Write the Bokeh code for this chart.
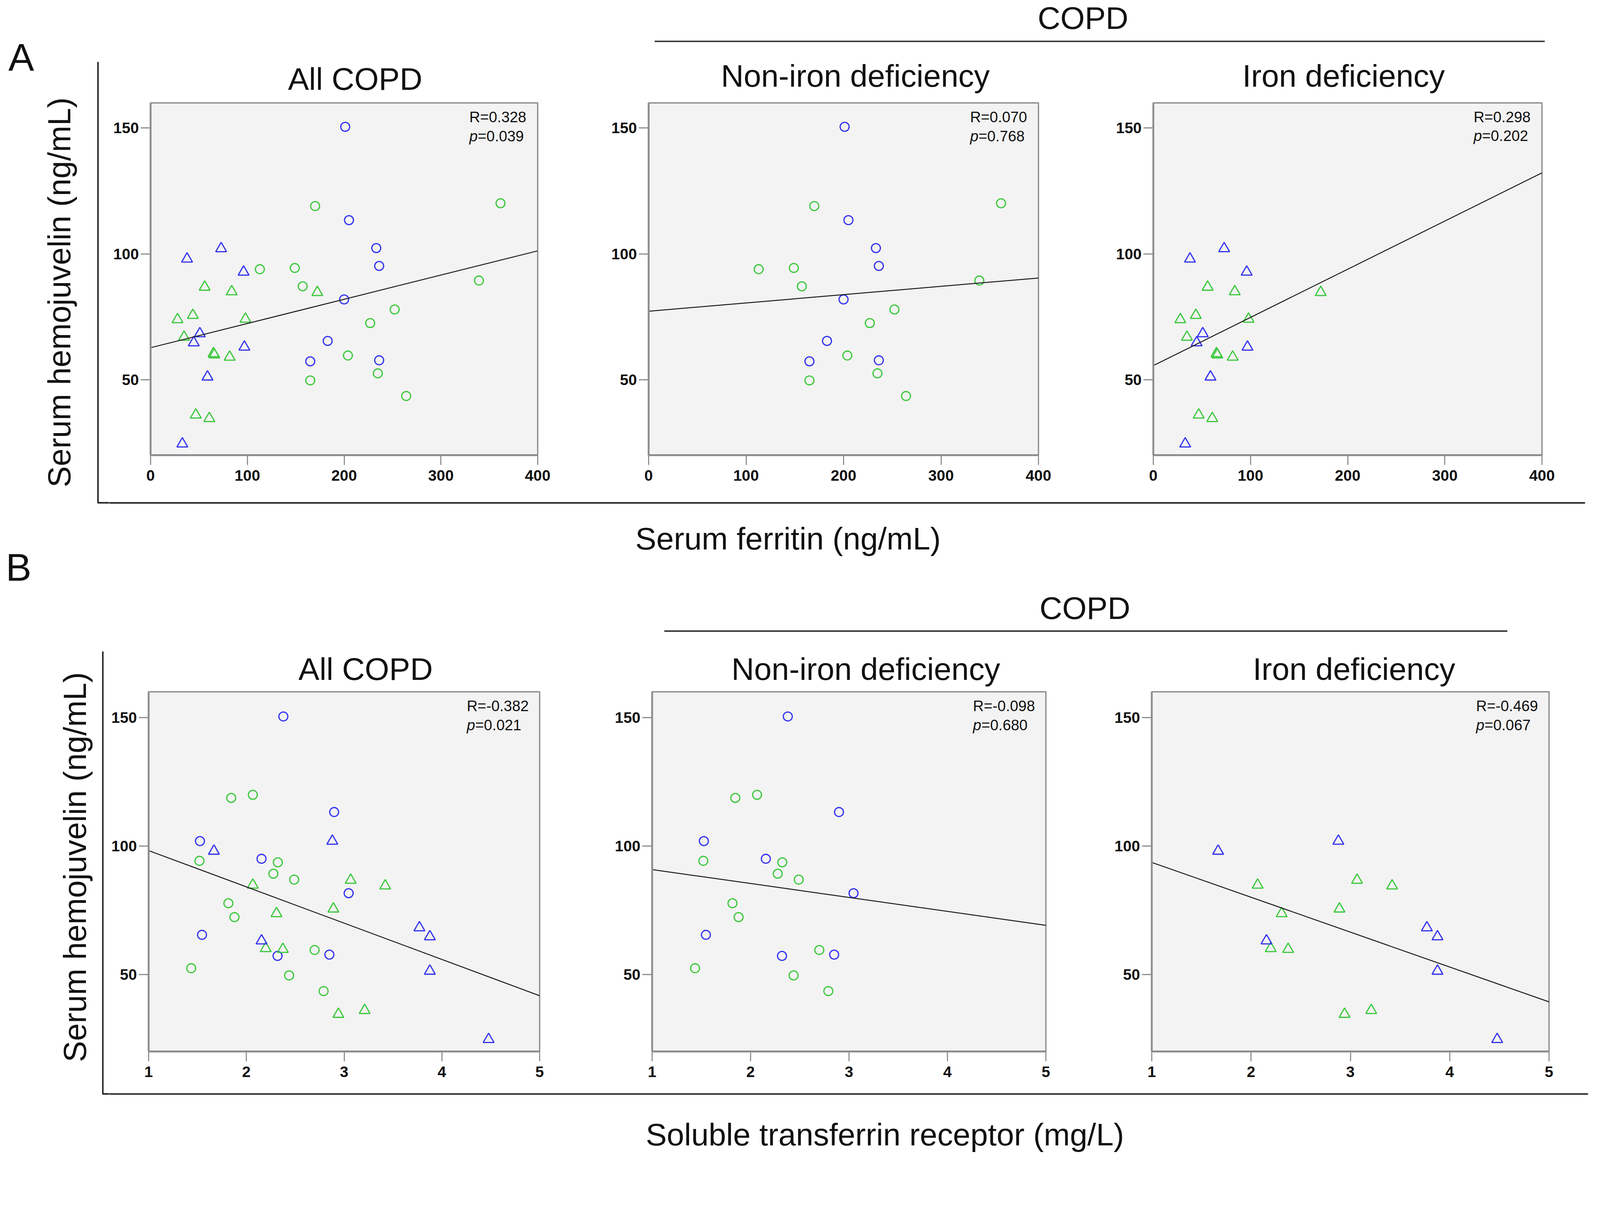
import numpy as np
from bokeh.plotting import figure
from bokeh.layouts import row, column
from bokeh.models import Range1d, FixedTicker
from bokeh.core.properties import value
from bokeh.embed import file_html
from bokeh.resources import INLINE

FONT = "Liberation Sans"

# ---------------- data ----------------
# Panel A: serum ferritin (ng/mL) vs serum hemojuvelin (ng/mL)
# circles = non-iron deficiency, triangles = iron deficiency
circ_blue_ferritin = [201.1, 205.0, 233.2, 236.2, 200.0, 183.0, 165.0, 236.2]
circ_blue_hjv_A = [150.5, 113.4, 102.3, 95.2, 81.9, 65.4, 57.3, 57.7]
circ_green_ferritin = [170.0, 361.6, 112.9, 149.0, 157.2, 339.3, 252.2, 226.9, 203.9, 165.0, 234.8, 264.1]
circ_green_hjv_A = [119.0, 120.1, 93.9, 94.4, 87.1, 89.4, 77.9, 72.5, 59.6, 49.7, 52.5, 43.5]
tri_blue_ferritin = [72.9, 37.7, 96.1, 50.9, 44.6, 96.9, 58.8, 32.8]
tri_blue_hjv_A = [102.1, 98.0, 92.8, 68.3, 64.7, 63.0, 51.1, 24.5]
tri_green_ferritin = [55.9, 83.8, 172.3, 27.8, 43.7, 98.0, 34.6, 65.0, 65.9, 81.7, 46.7, 60.7]
tri_green_hjv_A = [86.8, 85.0, 84.7, 73.9, 75.6, 74.1, 66.9, 60.4, 59.9, 59.0, 36.0, 34.6]

# Panel B: soluble transferrin receptor (mg/L) vs serum hemojuvelin (ng/mL)
circ_blue_stfr = [2.378, 2.898, 1.525, 2.155, 3.046, 1.546, 2.319, 2.849]
circ_blue_hjv_B = [150.4, 113.2, 101.9, 95.0, 81.6, 65.4, 57.2, 57.7]
circ_green_stfr = [1.845, 2.066, 1.520, 2.322, 2.276, 2.489, 1.816, 1.878, 2.698, 1.436, 2.437, 2.790]
circ_green_hjv_B = [118.7, 119.9, 94.2, 93.6, 89.2, 86.9, 77.7, 72.3, 59.5, 52.4, 49.6, 43.5]
tri_blue_stfr = [1.668, 2.879, 3.770, 3.877, 2.155, 3.877, 4.478]
tri_blue_hjv_B = [98.0, 101.9, 68.2, 64.7, 63.1, 51.3, 24.7]
tri_green_stfr = [2.066, 3.067, 3.420, 2.890, 2.308, 2.198, 2.373, 2.941, 3.210]
tri_green_hjv_B = [84.8, 86.7, 84.5, 75.5, 73.7, 60.1, 59.8, 34.5, 36.0]

panel_titles = ["All COPD", "Non-iron deficiency", "Iron deficiency"]
group_title = "COPD"

# fitted regression lines: y value at left and right end of the x axis
fitA_y_left = [62.7, 77.2, 55.6]
fitA_y_right = [101.2, 90.4, 132.2]
fitB_y_left = [98.2, 90.8, 93.6]
fitB_y_right = [41.7, 69.1, 39.3]

statsA_R = ["0.328", "0.070", "0.298"]
statsA_p = ["0.039", "0.768", "0.202"]
statsB_R = ["-0.382", "-0.098", "-0.469"]
statsB_p = ["0.021", "0.680", "0.067"]

xA_range = (0, 400)
xA_ticks = [0, 100, 200, 300, 400]
xB_range = (1, 5)
xB_ticks = [1, 2, 3, 4, 5]
y_range = (20, 160)
y_ticks = [50, 100, 150]

y_title = "Serum hemojuvelin (ng/mL)"
xA_title = "Serum ferritin (ng/mL)"
xB_title = "Soluble transferrin receptor (mg/L)"

# ---------------- styles ----------------
BLUE = "#3434ee"
GREEN = "#3dc83d"
FRAME = "#8e8e8e"
BG = "#f3f3f3"
INK = "#111111"
LINE = "#222222"

S = 1 / 1.045          # page pixels -> photographed pixels compensation
MID = 0.35             # em offset from text middle to baseline


def P(v):
    return int(round((v - 8) * S))


def fs(size):
    return value(f"{size * S:.1f}px")


def txt(p, x, y, s, size, align="left", angle=0.0, style="normal", rotated=False):
    # (x, y) is the baseline anchor in the strip's reference coordinates
    if rotated:
        x = x - MID * size
    else:
        y = y - MID * size
    p.text(x=[x], y=[y], text=[s], text_font=value(FONT), text_font_size=fs(size),
           text_align=align, text_baseline="middle", angle=angle,
           text_color=INK, text_font_style=style)


def strip(x0, x1, y0, y1):
    p = figure(width=P(x1) - P(x0), height=P(y1) - P(y0),
               x_range=Range1d(x0, x1), y_range=Range1d(y1, y0),
               x_axis_location=None, y_axis_location=None,
               toolbar_location=None, tools="", output_backend="svg",
               min_border=0, outline_line_color=None,
               background_fill_color="white", border_fill_color="white")
    p.grid.grid_line_color = None
    return p


def panel(xr, xticks, cx0, cx1, ry0, ry1, fx0, fx1, fy0, fy1):
    p = figure(width=P(cx1) - P(cx0), height=P(ry1) - P(ry0),
               x_range=Range1d(*xr), y_range=Range1d(*y_range),
               toolbar_location=None, tools="", output_backend="svg",
               min_border_left=P(fx0) - P(cx0), min_border_right=P(cx1) - P(fx1),
               min_border_top=P(fy0) - P(ry0), min_border_bottom=P(ry1) - P(fy1),
               background_fill_color=BG, border_fill_color="white",
               outline_line_color=FRAME, outline_line_width=3.5 * S)
    p.grid.grid_line_color = None
    p.xaxis.ticker = FixedTicker(ticks=xticks)
    p.yaxis.ticker = FixedTicker(ticks=y_ticks)
    for ax in (p.xaxis[0], p.yaxis[0]):
        ax.axis_line_color = FRAME
        ax.axis_line_width = 5 * S
        ax.major_tick_line_color = FRAME
        ax.major_tick_line_width = 3 * S
        ax.major_tick_out = int(round(26 * S))
        ax.major_tick_in = 0
        ax.minor_tick_out = 0
        ax.minor_tick_in = 0
        ax.major_label_text_font = FONT
        ax.major_label_text_font_size = f"{41 * S:.1f}px"
        ax.major_label_text_font_style = "bold"
        ax.major_label_text_color = INK
    p.xaxis.major_label_standoff = int(round(14 * S))
    p.yaxis.major_label_standoff = int(round(5 * S))
    p._fw = fx1 - fx0
    p._fh = fy1 - fy0
    return p


def points(p, xs, ys, marker, color):
    size = (24 if marker == "circle" else 29) * S
    p.scatter(x=xs, y=ys, marker=marker, size=size, fill_color=None,
              line_color=color, line_width=3.2 * S)


def fit_and_stats(p, xr, yl, yr, R, pv, left_px):
    p.line(x=[xr[0], xr[1]], y=[yl, yr], line_color="#1c1c1c", line_width=2.6 * S)
    xpp = (xr[1] - xr[0]) / p._fw
    ypp = (y_range[1] - y_range[0]) / p._fh
    x0 = xr[1] - left_px * xpp
    yR = y_range[1] - (52 - MID * 40) * ypp
    yP = y_range[1] - (103 - MID * 40) * ypp
    for x, y, s, st in [(x0, yR, "R=" + R, "normal"), (x0, yP, "p", "italic"),
                        (x0 + 22.5 * xpp, yP, "=" + pv, "normal")]:
        p.text(x=[x], y=[y], text=[s], text_font=value(FONT), text_font_size=fs(40),
               text_align="left", text_baseline="middle", text_color=INK,
               text_font_style=st)


# column / row boundaries (reference pixel coordinates)
COLS = [8, 300, 1560, 2920, 4278]
ROWS = [8, 265, 1335, 1848, 2910, 3091]

# ---------------- row A panels ----------------
A_frames = [(410, 1446, 283, 1233), (1743, 2786, 278, 1225), (3093, 4133, 274, 1225)]
A_panels = []
for i, (fx0, fx1, fy0, fy1) in enumerate(A_frames):
    p = panel(xA_range, xA_ticks, COLS[i + 1], COLS[i + 2], ROWS[1], ROWS[2], fx0, fx1, fy0, fy1)
    if i in (0, 1):
        points(p, circ_green_ferritin, circ_green_hjv_A, "circle", GREEN)
        points(p, circ_blue_ferritin, circ_blue_hjv_A, "circle", BLUE)
    if i in (0, 2):
        points(p, tri_green_ferritin, tri_green_hjv_A, "triangle", GREEN)
        points(p, tri_blue_ferritin, tri_blue_hjv_A, "triangle", BLUE)
    fit_and_stats(p, xA_range, fitA_y_left[i], fitA_y_right[i], statsA_R[i], statsA_p[i], 183)
    A_panels.append(p)

# ---------------- row B panels ----------------
B_frames = [(405, 1451, 1859, 2821), (1752, 2805, 1859, 2821), (3089, 4151, 1859, 2823)]
B_panels = []
for i, (fx0, fx1, fy0, fy1) in enumerate(B_frames):
    p = panel(xB_range, xB_ticks, COLS[i + 1], COLS[i + 2], ROWS[3], ROWS[4], fx0, fx1, fy0, fy1)
    if i in (0, 1):
        points(p, circ_green_stfr, circ_green_hjv_B, "circle", GREEN)
        points(p, circ_blue_stfr, circ_blue_hjv_B, "circle", BLUE)
    if i in (0, 2):
        points(p, tri_green_stfr, tri_green_hjv_B, "triangle", GREEN)
        points(p, tri_blue_stfr, tri_blue_hjv_B, "triangle", BLUE)
    fit_and_stats(p, xB_range, fitB_y_left[i], fitB_y_right[i], statsB_R[i], statsB_p[i], 195)
    B_panels.append(p)

# ---------------- decoration strips ----------------
left = strip(COLS[0], COLS[1], ROWS[0], ROWS[5])
txt(left, 30, 197, "A", 103)
txt(left, 23, 1562, "B", 103)
txt(left, 196, 790, y_title, 85, align="center", angle=np.pi / 2, rotated=True)
txt(left, 238, 2328, y_title, 85, align="center", angle=np.pi / 2, rotated=True)
left.line(x=[270, 270, 300], y=[173, 1353, 1353], line_color=LINE, line_width=4 * S)
left.line(x=[283, 283, 300], y=[1751, 2935, 2935], line_color=LINE, line_width=4 * S)

top = strip(COLS[1], COLS[4], ROWS[0], ROWS[1])
txt(top, 2905, 85, group_title, 84, align="center")
top.line(x=[1759, 4140], y=[118, 118], line_color="#3a3a3a", line_width=4 * S)
for cx, by, t in zip([958, 2296, 3602], [248, 240, 240], panel_titles):
    txt(top, cx, by, t, 84, align="center")

mid = strip(COLS[1], COLS[4], ROWS[2], ROWS[3])
mid.line(x=[300, 4248], y=[1353, 1353], line_color=LINE, line_width=4 * S)
txt(mid, 2116, 1478, xA_title, 84, align="center")
txt(mid, 2910, 1664, group_title, 84, align="center")
mid.line(x=[1785, 4040], y=[1696, 1696], line_color="#3a3a3a", line_width=4 * S)
for cx, t in zip([986, 2324, 3630], panel_titles):
    txt(mid, cx, 1827, t, 84, align="center")

bottom = strip(COLS[1], COLS[4], ROWS[4], ROWS[5])
bottom.line(x=[300, 4256], y=[2935, 2935], line_color=LINE, line_width=4 * S)
txt(bottom, 2375, 3073, xB_title, 84, align="center")

right = column(top, row(*A_panels, spacing=0), mid, row(*B_panels, spacing=0), bottom, spacing=0)
layout = row(left, right, spacing=0)

open("out.html", "w").write(file_html(layout, INLINE))
